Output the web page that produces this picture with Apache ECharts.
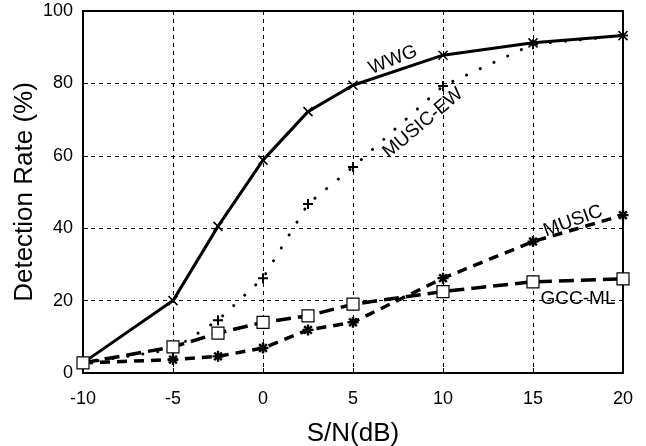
<!DOCTYPE html>
<html><head><meta charset="utf-8">
<script src="https://cdn.jsdelivr.net/npm/echarts@6/dist/echarts.min.js"></script>
<style>html,body{margin:0;padding:0;background:#fff}#c{width:646px;height:446px}</style>
</head><body><div id="c"></div>
<script>
var snr = [-10, -5, -2.5, 0, 2.5, 5, 10, 15, 20];
var wwg = [2.8, 20, 40.5, 58.8, 72.2, 79.5, 87.8, 91.2, 93.2];
var musicEW = [2.8, 6.5, 14.6, 26.2, 46.7, 56.9, 79.3, 90.8, 93.2];
var music = [2.8, 3.7, 4.6, 6.9, 11.9, 14, 26.2, 36.3, 43.6];
var gccml = [2.8, 7.2, 11, 14, 15.8, 19, 22.5, 25.2, 26];
var xTicks = [-10, -5, 0, 5, 10, 15, 20];
var yTicks = [0, 20, 40, 60, 80, 100];

function pairs(ys){ return snr.map(function(x,i){ return [x, ys[i]]; }); }
var FONT = 'Liberation Sans, Arial, sans-serif';
var symX = 'path://M0,0L10,10M10,0L0,10';
var symPlus = 'path://M5,0L5,10M0,5L10,5';
var symStar = 'path://M5,0L5,10M0,5L10,5M1.5,1.5L8.5,8.5M8.5,1.5L1.5,8.5';

var chart = echarts.init(document.getElementById('c'));
chart.setOption({
  animation: false,
  backgroundColor: '#fff',
  grid: {left: 83, right: 23, top: 11, bottom: 73, show: true, borderColor: '#000', borderWidth: 2,
    containLabel: false, outerBoundsMode: 'none'},
  xAxis: {
    type: 'value', min: -10, max: 20, interval: 5,
    name: 'S/N(dB)', nameLocation: 'middle', nameGap: 48,
    nameTextStyle: {fontFamily: FONT, fontSize: 26, color: '#000'},
    axisLine: {onZero: false, lineStyle: {color: '#000', width: 2}},
    axisTick: {show: true, inside: true, length: 5, lineStyle: {color: '#000'}},
    axisLabel: {fontFamily: FONT, fontSize: 18, color: '#000', margin: 17,
      formatter: function(v){ return xTicks.indexOf(v) >= 0 ? String(v) : ''; }},
    splitLine: {show: true, lineStyle: {color: '#000', type: [4, 4], width: 1}}
  },
  yAxis: {
    type: 'value', min: 0, max: 100, interval: 20,
    name: 'Detection Rate (%)', nameLocation: 'middle', nameGap: 45, nameMoveOverlap: false,
    nameTextStyle: {fontFamily: FONT, fontSize: 26, color: '#000'},
    axisLine: {show: true, onZero: false, lineStyle: {color: '#000', width: 2}},
    axisTick: {show: true, inside: true, length: 5, lineStyle: {color: '#000'}},
    axisLabel: {fontFamily: FONT, fontSize: 18, color: '#000', margin: 10,
      formatter: function(v){ return yTicks.indexOf(v) >= 0 ? String(v) : ''; }},
    splitLine: {show: true, lineStyle: {color: '#000', type: [4, 4], width: 1}}
  },
  series: [
    {name: 'WWG', type: 'line', data: pairs(wwg), symbol: symX, symbolSize: 9,
      lineStyle: {color: '#000', width: 3},
      itemStyle: {color: 'none', borderColor: '#000', borderWidth: 1.5}, z: 5},
    {name: 'MUSIC-EW', type: 'line', data: pairs(musicEW), symbol: symPlus, symbolSize: 10,
      lineStyle: {color: '#000', width: 3, type: [0.1, 15], cap: 'round'},
      itemStyle: {color: 'none', borderColor: '#000', borderWidth: 2}, z: 4},
    {name: 'MUSIC', type: 'line', data: pairs(music), symbol: symStar, symbolSize: 11,
      lineStyle: {color: '#000', width: 3.5, type: [10, 7]},
      itemStyle: {color: 'none', borderColor: '#000', borderWidth: 2.4}, z: 4},
    {name: 'GCC-ML', type: 'line', data: pairs(gccml), symbol: 'rect', symbolSize: 12,
      lineStyle: {color: '#000', width: 3.5, type: [15, 7]},
      itemStyle: {color: '#fff', borderColor: '#000', borderWidth: 1.2}, z: 6}
  ]
});

var labels = [
  {text: 'WWG', x: 393, y: 60, rot: 22},
  {text: 'MUSIC-EW', x: 423, y: 123, rot: 40},
  {text: 'MUSIC', x: 573, y: 221, rot: 20},
  {text: 'GCC-ML', x: 578, y: 299, rot: 0}
];
chart.setOption({
  graphic: labels.map(function(l){
    return {type: 'text', x: l.x, y: l.y, rotation: l.rot * Math.PI / 180, z: 100,
      style: {text: l.text, fontFamily: FONT, fontSize: 19, fill: '#000',
        align: 'center', verticalAlign: 'middle'}};
  })
});
</script></body></html>
